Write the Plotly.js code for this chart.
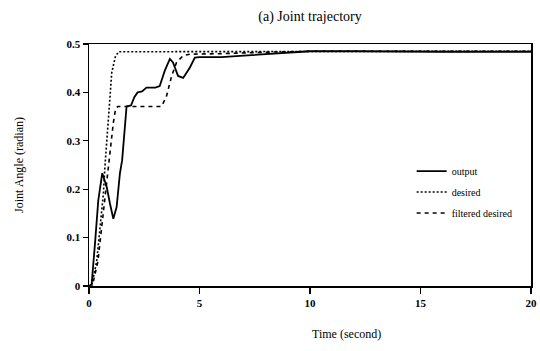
<!DOCTYPE html>
<html>
<head>
<meta charset="utf-8">
<script src="https://cdn.plot.ly/plotly-3.0.1.min.js"></script>
<style>html,body{margin:0;padding:0;background:#fff;}#chart{width:540px;height:351px;}</style>
</head>
<body>
<div id="chart"></div>
<script>
// Output (solid)
const outT = [0, 0.12, 0.27, 0.42, 0.6, 0.8, 0.95, 1.1, 1.25, 1.4, 1.5, 1.6, 1.7, 1.9, 2.05, 2.2, 2.4, 2.6, 3.0, 3.2, 3.43, 3.66, 3.8, 4.03, 4.26, 4.56, 4.79, 5.0, 6, 7, 8, 9, 10, 12, 14, 15, 16, 18, 20];
const outV = [0, 0.004, 0.087, 0.177, 0.233, 0.205, 0.17, 0.139, 0.163, 0.233, 0.26, 0.32, 0.371, 0.373, 0.39, 0.40, 0.402, 0.41, 0.41, 0.413, 0.445, 0.469, 0.462, 0.434, 0.43, 0.451, 0.472, 0.473, 0.473, 0.476, 0.479, 0.483, 0.485, 0.485, 0.484, 0.483, 0.484, 0.484, 0.484];
// Desired (dotted)
const desT = [0, 0.12, 0.35, 0.5, 0.65, 0.72, 0.8, 0.9, 1.03, 1.2, 1.35, 20];
const desV = [0, 0, 0.052, 0.12, 0.19, 0.246, 0.30, 0.371, 0.441, 0.475, 0.484, 0.485];
// Filtered desired (dashed)
const filT = [0, 0.15, 0.4, 0.55, 0.7, 0.82, 0.95, 1.1, 1.2, 1.3, 2.0, 3.28, 3.5, 3.74, 3.96, 4.26, 4.56, 6, 8, 10, 20];
const filV = [0, 0, 0.05, 0.11, 0.18, 0.22, 0.267, 0.337, 0.365, 0.371, 0.371, 0.371, 0.391, 0.434, 0.462, 0.476, 0.479, 0.48, 0.483, 0.485, 0.485];

const seriesNames = ["output", "desired", "filtered desired"];
const xTicks = [0, 5, 10, 15, 20];
const yTicks = [0, 0.1, 0.2, 0.3, 0.4, 0.5];
const yTickText = ["0", "0.1", "0.2", "0.3", "0.4", "0.5"];

const serif = "Liberation Serif, Times New Roman, serif";

const traces = [
  {x: outT, y: outV, name: seriesNames[0], mode: "lines", legendgroup: "a",
   line: {color: "#000", width: 1.8, dash: "solid"}},
  {x: desT, y: desV, name: seriesNames[1], mode: "lines", legendgroup: "b",
   line: {color: "#000", width: 1.6, dash: "2px,2px"}},
  {x: filT, y: filV, name: seriesNames[2], mode: "lines", legendgroup: "c",
   line: {color: "#000", width: 1.6, dash: "4px,4px"}}
];

const layout = {
  width: 540, height: 351,
  margin: {l: 88.5, r: 9, t: 44, b: 65},
  paper_bgcolor: "#fff", plot_bgcolor: "#fff",
  font: {family: serif, color: "#000", size: 11},
  title: {text: "(a) Joint trajectory", font: {family: serif, size: 14, color: "#000"},
          x: 0.5, xref: "paper", y: 0.955, yref: "container", yanchor: "middle"},
  showlegend: true,
  legend: {x: 0.73, y: 0.535, xanchor: "left", yanchor: "top", bgcolor: "rgba(0,0,0,0)",
           font: {family: serif, size: 10, color: "#000"}, traceorder: "grouped",
           tracegroupgap: 2},
  xaxis: {range: [0, 20], tickvals: xTicks, ticktext: xTicks.map(String),
          showgrid: false, zeroline: false, showline: true, linecolor: "#000", linewidth: 1.5,
          mirror: true, ticks: "outside", ticklen: 6, tickwidth: 1.2, tickcolor: "#000",
          tickfont: {family: serif, size: 11, color: "#000", weight: "bold"}},
  yaxis: {range: [0, 0.5], tickvals: yTicks, ticktext: yTickText,
          showgrid: false, zeroline: false, showline: true, linecolor: "#000", linewidth: 1.5,
          mirror: true, ticks: "outside", ticklen: 5, tickwidth: 1.2, tickcolor: "#000",
          tickfont: {family: serif, size: 11, color: "#000", weight: "bold"},
          title: {text: "Joint Angle (radian)", font: {family: serif, size: 12, color: "#000"}, standoff: 40}},
  annotations: [
    {text: "Time (second)", xref: "paper", yref: "paper", x: 0.582, y: -0.2, xanchor: "center", yanchor: "middle",
     showarrow: false, font: {family: serif, size: 12, color: "#000"}}
  ]
};

Plotly.newPlot("chart", traces, layout, {displayModeBar: false, staticPlot: true});
</script>
</body>
</html>
